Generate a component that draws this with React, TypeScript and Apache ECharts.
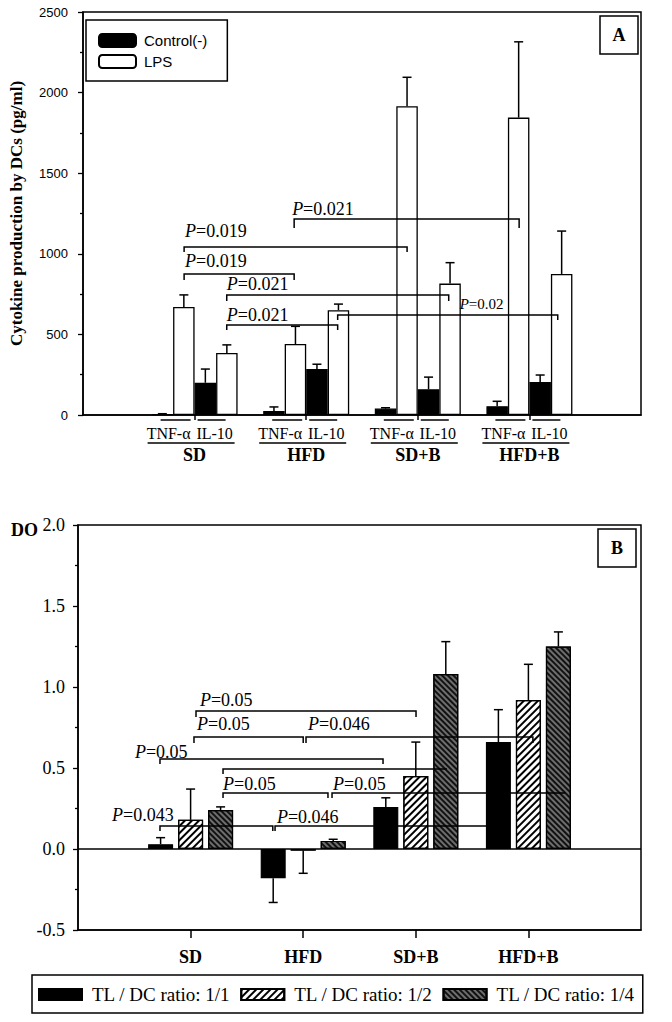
import React, { useEffect, useRef } from 'react';
import * as echarts from 'echarts';

// ---------- data ----------
const groups = ['SD', 'HFD', 'SD+B', 'HFD+B'];
const cytokineLabels = ['TNF-α', 'IL-10'];

// Panel A (pg/ml)
const tnfControl = [5, 25, 40, 55];
const tnfControlErr = [3, 25, 5, 30];
const tnfLPS = [670, 440, 1915, 1845];
const tnfLPSErr = [75, 110, 180, 470];
const il10Control = [200, 285, 160, 205];
const il10ControlErr = [85, 30, 75, 43];
const il10LPS = [385, 650, 815, 875];
const il10LPSErr = [50, 38, 130, 266];

// Panel B (DO)
const ratio11 = [0.03, -0.18, 0.26, 0.66];
const ratio11Err = [0.04, 0.15, 0.056, 0.2];
const ratio12 = [0.18, -0.01, 0.45, 0.92];
const ratio12Err = [0.19, 0.14, 0.21, 0.22];
const ratio14 = [0.24, 0.05, 1.08, 1.25];
const ratio14Err = [0.02, 0.01, 0.2, 0.09];

const topAxis = { min: 0, max: 2500, step: 500 };
const bottomAxis = { min: -0.5, max: 2.0, step: 0.5 };

// significance brackets: from/to in group units (0..5), y in data units
const topBrackets = [
  { from: 1.892, to: 3.908, y: 1216, drop: [9, 9], p: '0.021', lx: 1.874, ly: 1278, fs: 18 },
  { from: 0.906, to: 2.904, y: 1042, drop: [5, 5], p: '0.019', lx: 0.915, ly: 1141, fs: 18 },
  { from: 0.906, to: 1.892, y: 875, drop: [6, 6], p: '0.019', lx: 0.915, ly: 955, fs: 18 },
  { from: 1.288, to: 3.277, y: 744, drop: [6, 6], p: '0.021', lx: 1.288, ly: 813, fs: 18 },
  { from: 2.282, to: 4.254, y: 620, drop: [5, 5], p: '0.02', lx: 3.375, ly: 689, fs: 15 },
  { from: 1.288, to: 2.282, y: 558, drop: [5, 5], p: '0.021', lx: 1.288, ly: 620, fs: 18 },
];
const bottomBrackets = [
  { from: 1.048, to: 3.002, y: 0.852, drop: [6, 6], p: '0.05', lx: 1.083, ly: 0.92, fs: 18 },
  { from: 1.03, to: 2.0, y: 0.691, drop: [6, 6], p: '0.05', lx: 1.057, ly: 0.772, fs: 18 },
  { from: 2.025, to: 4.04, y: 0.691, drop: [6, 6], p: '0.046', lx: 2.043, ly: 0.772, fs: 18 },
  { from: 0.728, to: 2.709, y: 0.556, drop: [5, 5], p: '0.05', lx: 0.506, ly: 0.599, fs: 18 },
  { from: 1.288, to: 3.277, y: 0.494, drop: [5, 0], p: '', lx: 0, ly: 0, fs: 18 },
  { from: 1.288, to: 2.22, y: 0.346, drop: [5, 5], p: '0.05', lx: 1.288, ly: 0.401, fs: 18 },
  { from: 2.256, to: 4.325, y: 0.346, drop: [5, 0], p: '0.05', lx: 2.265, ly: 0.401, fs: 18 },
  { from: 0.728, to: 1.73, y: 0.142, drop: [5, 5], p: '0.043', lx: 0.302, ly: 0.21, fs: 18 },
  { from: 1.75, to: 3.65, y: 0.142, drop: [5, 0], p: '0.046', lx: 1.767, ly: 0.198, fs: 18 },
];

const SERIF = 'Liberation Serif';
const SANS = 'Liberation Sans';

export default function App() {
  const ref = useRef<HTMLDivElement>(null);

  useEffect(() => {
    const chart = echarts.init(ref.current!, null, { renderer: 'svg' });
    const slots = ['', ...groups, ''];
    const pad = (arr: number[]) => [null, ...arr, null];

    const topBarW = 21.5;
    const botBarW = 25;
    const botGap = 5;

    const makeErr = (name: string, vals: number[], errs: number[], xi: number, offset: number, cap: number) => ({
      type: 'custom',
      name,
      xAxisIndex: xi,
      yAxisIndex: xi,
      silent: true,
      z: 5,
      data: vals.map((v, i) => [i + 1, v, errs[i]]),
      encode: { x: 0, y: 1 },
      renderItem: (params: any, api: any) => {
        const c = api.value(0);
        const v = api.value(1);
        const e = api.value(2);
        const sign = v < 0 ? -1 : 1;
        const p0 = api.coord([c, v]);
        const p1 = api.coord([c, v + sign * e]);
        const x = p0[0] + offset;
        const st = { stroke: '#000', lineWidth: 1.5 };
        return {
          type: 'group',
          children: [
            { type: 'line', shape: { x1: x, y1: p0[1], x2: x, y2: p1[1] }, style: st },
            { type: 'line', shape: { x1: x - cap, y1: p1[1], x2: x + cap, y2: p1[1] }, style: st },
          ],
        };
      },
    });

    const topBar = (name: string, vals: number[], color: string) => ({
      type: 'bar',
      name,
      xAxisIndex: 0,
      yAxisIndex: 0,
      data: pad(vals),
      barWidth: topBarW,
      barGap: '0%',
      itemStyle: { color, borderColor: '#000', borderWidth: 1.3 },
      z: 2,
    });

    const hatchLight = {
      symbol: 'rect',
      symbolSize: 1,
      color: '#000',
      dashArrayX: [1, 0],
      dashArrayY: [1.1, 2.4],
      rotation: -Math.PI / 4,
    };
    const hatchDark = {
      symbol: 'rect',
      symbolSize: 1,
      color: '#111',
      dashArrayX: [1, 0],
      dashArrayY: [2, 1.6],
      rotation: Math.PI / 4,
    };

    const botBar = (name: string, vals: number[], style: any) => ({
      type: 'bar',
      name,
      xAxisIndex: 1,
      yAxisIndex: 1,
      data: pad(vals),
      barWidth: botBarW,
      barGap: (botGap / botBarW) * 100 + '%',
      itemStyle: { borderColor: '#000', borderWidth: 1.2, ...style },
      z: 2,
    });

    const xAxisCommon = {
      type: 'category',
      data: slots,
      boundaryGap: false,
      axisLine: { onZero: false, lineStyle: { color: '#000', width: 1.5 } },
      splitLine: { show: false },
    };

    const option: any = {
      animation: false,
      backgroundColor: '#fff',
      grid: [
        { left: 78, top: 12, width: 563, height: 403, show: true, borderColor: '#000', borderWidth: 1.5, backgroundColor: 'transparent' },
        { left: 78, top: 525, width: 563, height: 405, show: true, borderColor: '#000', borderWidth: 1.5, backgroundColor: 'transparent' },
      ],
      xAxis: [
        {
          ...xAxisCommon,
          gridIndex: 0,
          axisTick: { show: true, length: 5, interval: (i: number) => i > 0 && i < 5, lineStyle: { color: '#000', width: 1.5 } },
          axisLabel: { show: true, interval: 0, margin: 31, color: '#000', fontFamily: SERIF, fontWeight: 'bold', fontSize: 18 },
        },
        {
          ...xAxisCommon,
          gridIndex: 1,
          axisTick: { show: true, length: 8, interval: (i: number) => i > 0 && i < 5, lineStyle: { color: '#000', width: 1.5 } },
          axisLabel: { show: true, interval: 0, margin: 18, color: '#000', fontFamily: SERIF, fontWeight: 'bold', fontSize: 18 },
        },
      ],
      yAxis: [
        {
          type: 'value',
          gridIndex: 0,
          min: topAxis.min,
          max: topAxis.max,
          interval: topAxis.step,
          name: 'Cytokine production by DCs (pg/ml)',
          nameLocation: 'middle',
          nameGap: 58,
          nameTextStyle: { fontFamily: SERIF, fontWeight: 'bold', fontSize: 17, color: '#000' },
          axisLine: { show: true, lineStyle: { color: '#000', width: 1.5 } },
          axisTick: { show: true, length: 5, lineStyle: { color: '#000', width: 1.3 } },
          minorTick: { show: true, splitNumber: 2, length: 3, lineStyle: { color: '#000', width: 1.3 } },
          splitLine: { show: false },
          axisLabel: { margin: 15, color: '#000', fontFamily: SANS, fontSize: 13, formatter: (v: number) => String(v) },
        },
        {
          type: 'value',
          gridIndex: 1,
          min: bottomAxis.min,
          max: bottomAxis.max,
          interval: bottomAxis.step,
          axisLine: { show: true, onZero: false, lineStyle: { color: '#000', width: 1.5 } },
          axisTick: { show: true, length: 5, lineStyle: { color: '#000', width: 1.3 } },
          minorTick: { show: true, splitNumber: 2, length: 3, lineStyle: { color: '#000', width: 1.3 } },
          splitLine: { show: false },
          axisLabel: { margin: 13, color: '#000', fontFamily: SERIF, fontSize: 18, formatter: (v: number) => v.toFixed(1) },
        },
      ],
      legend: [
        {
          orient: 'vertical',
          left: 86,
          top: 20,
          padding: [13, 20, 12, 12],
          itemWidth: 37,
          itemHeight: 13,
          itemGap: 6,
          icon: 'roundRect',
          borderColor: '#000',
          borderWidth: 1.5,
          selectedMode: false,
          textStyle: { fontFamily: SANS, fontSize: 15, color: '#000', padding: [0, 0, 0, 3] },
          data: ['Control(-)', 'LPS'],
        },
        {
          orient: 'horizontal',
          left: 32,
          top: 975,
          padding: [10, 8, 9, 6],
          itemWidth: 43,
          itemHeight: 11,
          itemGap: 10,
          icon: 'rect',
          borderColor: '#000',
          borderWidth: 1.5,
          selectedMode: false,
          textStyle: { fontFamily: SERIF, fontSize: 19, color: '#000', padding: [0, 0, 0, 5] },
          data: ['TL / DC ratio: 1/1', 'TL / DC ratio: 1/2', 'TL / DC ratio: 1/4'],
        },
      ],
      series: [
        topBar('Control(-)', tnfControl, '#000'),
        topBar('LPS', tnfLPS, '#fff'),
        topBar('Control(-)', il10Control, '#000'),
        topBar('LPS', il10LPS, '#fff'),
        makeErr('err tnf control', tnfControl, tnfControlErr, 0, -1.5 * topBarW, 4.5),
        makeErr('err tnf lps', tnfLPS, tnfLPSErr, 0, -0.5 * topBarW, 4.5),
        makeErr('err il10 control', il10Control, il10ControlErr, 0, 0.5 * topBarW, 4.5),
        makeErr('err il10 lps', il10LPS, il10LPSErr, 0, 1.5 * topBarW, 4.5),
        {
          ...botBar('TL / DC ratio: 1/1', ratio11, { color: '#000' }),
          markLine: {
            silent: true,
            symbol: 'none',
            label: { show: false },
            lineStyle: { color: '#000', width: 1.5, type: 'solid' },
            data: [{ yAxis: 0 }],
          },
        },
        botBar('TL / DC ratio: 1/2', ratio12, { color: '#fff', decal: hatchLight }),
        botBar('TL / DC ratio: 1/4', ratio14, { color: '#6e6e6e', decal: hatchDark }),
        makeErr('err r11', ratio11, ratio11Err, 1, -(botBarW + botGap), 4.5),
        makeErr('err r12', ratio12, ratio12Err, 1, 0, 4.5),
        makeErr('err r14', ratio14, ratio14Err, 1, botBarW + botGap, 4.5),
      ],
    };

    chart.setOption(option);

    // ---------- annotations placed through the axes ----------
    const X = (xi: number, u: number) => {
      const a = chart.convertToPixel({ xAxisIndex: xi }, 0) as number;
      const b = chart.convertToPixel({ xAxisIndex: xi }, 1) as number;
      return a + u * (b - a);
    };
    const Y = (yi: number, v: number) => chart.convertToPixel({ yAxisIndex: yi }, v) as number;

    const graphics: any[] = [];
    const lineStyle = { stroke: '#000', lineWidth: 1.5, fill: null };

    const addBrackets = (list: any[], xi: number) => {
      list.forEach((b) => {
        const x1 = X(xi, b.from);
        const x2 = X(xi, b.to);
        const y = Y(xi, b.y);
        graphics.push({
          type: 'polyline',
          silent: true,
          z: 10,
          shape: { points: [[x1, y + b.drop[0]], [x1, y], [x2, y], [x2, y + b.drop[1]]] },
          style: lineStyle,
        });
        if (b.p) {
          graphics.push({
            type: 'text',
            silent: true,
            z: 11,
            x: X(xi, b.lx),
            y: Y(xi, b.ly),
            style: {
              text: '{i|P}=' + b.p,
              rich: { i: { fontStyle: 'italic', fontFamily: SERIF, fontSize: b.fs, fill: '#000' } },
              fontFamily: SERIF,
              fontSize: b.fs,
              fill: '#000',
              align: 'left',
              verticalAlign: 'middle',
            },
          });
        }
      });
    };
    addBrackets(topBrackets, 0);
    addBrackets(bottomBrackets, 1);

    // sub-category labels (TNF-α / IL-10) under panel A
    const axisY = Y(0, 0);
    groups.forEach((g, i) => {
      const cx = X(0, i + 1);
      graphics.push(
        { type: 'line', silent: true, shape: { x1: cx - 34, y1: axisY + 5, x2: cx - 4, y2: axisY + 5 }, style: lineStyle },
        { type: 'line', silent: true, shape: { x1: cx + 3, y1: axisY + 5, x2: cx + 31, y2: axisY + 5 }, style: lineStyle },
        { type: 'line', silent: true, shape: { x1: cx - 47, y1: axisY + 28, x2: cx + 40, y2: axisY + 28 }, style: lineStyle },
        {
          type: 'text', silent: true, x: cx - 26, y: axisY + 18,
          style: { text: cytokineLabels[0], fontFamily: SERIF, fontSize: 16, fill: '#000', align: 'center', verticalAlign: 'middle' },
        },
        {
          type: 'text', silent: true, x: cx + 20, y: axisY + 18,
          style: { text: cytokineLabels[1], fontFamily: SERIF, fontSize: 16, fill: '#000', align: 'center', verticalAlign: 'middle' },
        }
      );
    });

    // panel letters
    const rightA = X(0, 5);
    const topA = Y(0, topAxis.max);
    const topB = Y(1, bottomAxis.max);
    [
      { l: 'A', x: rightA - 41, y: topA + 4 },
      { l: 'B', x: rightA - 43, y: topB + 4 },
    ].forEach((b) => {
      graphics.push({
        type: 'group',
        x: b.x,
        y: b.y,
        children: [
          { type: 'rect', shape: { x: 0, y: 0, width: 38, height: 38 }, style: { fill: '#fff', stroke: '#000', lineWidth: 1.5 } },
          { type: 'text', x: 19, y: 19, style: { text: b.l, fontFamily: SERIF, fontWeight: 'bold', fontSize: 18, fill: '#000', align: 'center', verticalAlign: 'middle' } },
        ],
      });
    });

    // DO label of panel B
    graphics.push({
      type: 'text',
      x: 11,
      y: topB + 5,
      style: { text: 'DO', fontFamily: SERIF, fontWeight: 'bold', fontSize: 18, fill: '#000', align: 'left', verticalAlign: 'middle' },
    });

    chart.setOption({ graphic: graphics });

    return () => chart.dispose();
  }, []);

  return <div ref={ref} style={{ position: 'fixed', left: 0, top: 0, width: 672, height: 1022, background: '#fff' }} />;
}
